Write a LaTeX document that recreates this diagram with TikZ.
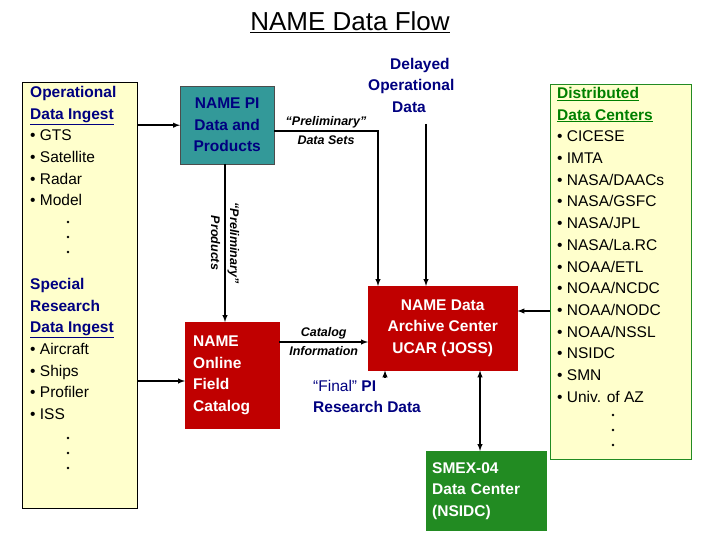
\documentclass[tikz,border=0pt]{standalone}
\usepackage{fontspec}
\setmainfont{Liberation Sans}
\usetikzlibrary{positioning}
\definecolor{navy}{RGB}{0, 0, 128}
\definecolor{paleyellow}{RGB}{255, 255, 204}
\definecolor{teal}{RGB}{51, 153, 153}
\definecolor{darkred}{RGB}{192, 0, 0}
\definecolor{darkgreen}{RGB}{0, 128, 0}
\definecolor{boxgreen}{RGB}{34, 139, 34}

\begin{document}
\begin{tikzpicture}[x=1pt, y=-1pt,
        box/.style={rectangle, draw=#1, fill=#1, text=white, align=left, font=\fontsize{15.5}{21.5}\selectfont\bfseries, anchor=north west, inner sep=0pt},
        list/.style={align=left, anchor=north west, inner sep=0pt, font=\fontsize{15.5}{21.7}\selectfont},
        dot/.style={circle, fill=black, inner sep=0pt, minimum size=2.6pt},
        lab/.style={font=\fontsize{12.5}{19}\selectfont\bfseries\itshape, align=center, inner sep=1pt},
        arrow/.style={-latex, line width=1.4pt}
    ]
        \useasboundingbox (0,0) rectangle (720,540);

        \node (title) at (350,22) {\fontsize{26}{30}\selectfont\underline{NAME Data Flow}};

        % input boxes
        \node (ingest) [draw, fill=paleyellow, anchor=north west, minimum width=115pt, minimum height=426pt] at (22,82) {};
        \node (oplist) [list] at (30,86) {\textcolor{navy}{\textbf{Operational}}\\\textcolor{navy}{\textbf{\underline{Data Ingest}}}\\\textbullet\ GTS\\\textbullet\ Satellite\\\textbullet\ Radar\\\textbullet\ Model};
        \node (splist) [list] at (30,278) {\textcolor{navy}{\textbf{Special}}\\\textcolor{navy}{\textbf{Research}}\\\textcolor{navy}{\textbf{\underline{Data Ingest}}}\\\textbullet\ Aircraft\\\textbullet\ Ships\\\textbullet\ Profiler\\\textbullet\ ISS};

        \node (centers) [draw=boxgreen, fill=paleyellow, anchor=north west, minimum width=141pt, minimum height=375pt] at (550,84) {};
        \node (dclist) [list] at (557,87) {\textcolor{darkgreen}{\textbf{\underline{Distributed}}}\\\textcolor{darkgreen}{\textbf{\underline{Data Centers}}}\\\textbullet\ CICESE\\\textbullet\ IMTA\\\textbullet\ NASA/DAACs\\\textbullet\ NASA/GSFC\\\textbullet\ NASA/JPL\\\textbullet\ NASA/La.RC\\\textbullet\ NOAA/ETL\\\textbullet\ NOAA/NCDC\\\textbullet\ NOAA/NODC\\\textbullet\ NOAA/NSSL\\\textbullet\ NSIDC\\\textbullet\ SMN\\\textbullet\ Univ. of AZ};

        % continuation dots
        \foreach \k in {0,1,2} {
            \node (opdot\k) [dot] at (68,{222+15*\k}) {};
            \node (spdot\k) [dot] at (68,{438+15*\k}) {};
            \node (dcdot\k) [dot] at (613,{415+15*\k}) {};
        }

        % processing boxes
        \node (pi) [box=teal, draw=black!70, text=navy, minimum width=94pt, minimum height=78pt, align=center] at (180,86) {NAME PI\\Data and\\Products};
        \node (catalog) [box=darkred, minimum width=86pt, minimum height=106pt, text width=78pt, inner xsep=8pt] at (185,322) {NAME\\Online\\Field\\Catalog};
        \node (archive) [box=darkred, minimum width=149pt, minimum height=84pt, align=center] at (368,286) {NAME Data\\Archive Center\\UCAR (JOSS)};
        \node (smex) [box=boxgreen, minimum width=116pt, minimum height=79pt, text width=108pt, inner xsep=6pt] at (426,451) {SMEX-04\\Data Center\\(NSIDC)};

        % free texts
        \node (delayed) [font=\fontsize{15.5}{21.5}\selectfont\bfseries, text=navy, align=left, anchor=north west, inner sep=0pt] at (368,58) {\hspace*{22pt}Delayed\\Operational\\\hspace*{24pt}Data};
        \node (final) [font=\fontsize{15.5}{21.5}\selectfont\bfseries, text=navy, align=left, anchor=north west, inner sep=0pt] at (313,380) {\textmd{``Final''} PI\\Research Data};
        \coordinate (finalstart) at (385,377);

        % connectors
        \draw[arrow] (ingest.east |- pi.west) -- (pi.west);
        \draw[arrow] (ingest.east |- 0,381) -- (catalog.west |- 0,381);
        \draw[arrow] (225,164) -- node[lab, rotate=-90] {``Preliminary''\\Products} (225,322);
        \draw[arrow] (pi.east |- 0,131) -| (378,286);
        \node (datasets) [lab] at (326,131) {``Preliminary''\\Data Sets};
        \draw[arrow] (426,124) -- (426,286);
        \draw[arrow] (catalog.east |- 0,342) -- node[lab] {Catalog\\Information} (archive.west |- 0,342);
        \draw[arrow] (finalstart) -- (archive.south -| finalstart);
        \draw[latex-latex, line width=1.4pt] (archive.south -| 480,0) -- (smex.north -| 480,0);
        \draw[arrow] (centers.west |- 0,311) -- (archive.east |- 0,311);
    \end{tikzpicture}
\end{document}
